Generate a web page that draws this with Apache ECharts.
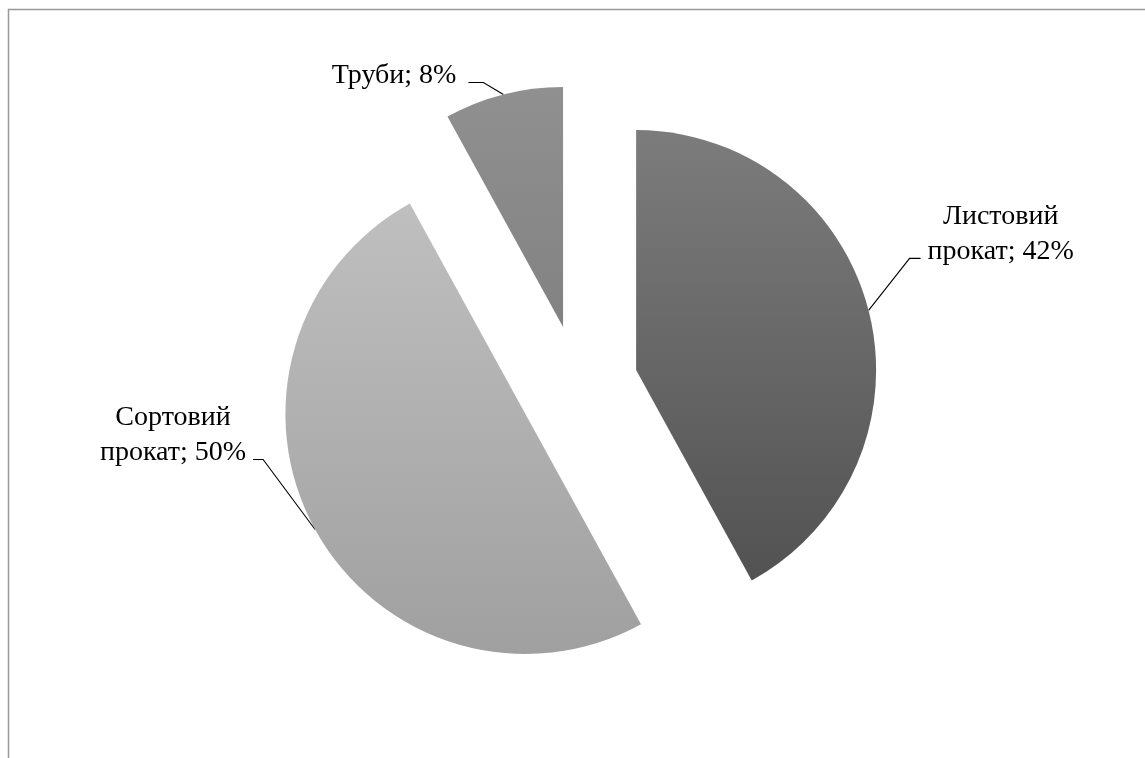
<!DOCTYPE html>
<html>
<head>
<meta charset="utf-8">
<script src="https://cdn.jsdelivr.net/npm/echarts@6/dist/echarts.min.js"></script>
<style>
  html, body { margin: 0; padding: 0; background: #ffffff; }
  #chart { width: 1145px; height: 758px; }
</style>
</head>
<body>
<div id="chart"></div>
<script>
// ---- data ----
const categories = ['Листовий\nпрокат', 'Сортовий\nпрокат', 'Труби'];
const values = [42, 50, 8];

// ---- style ----
const gradientStops = [
  ['#7c7c7c', '#525252'],
  ['#bfbfbf', '#a0a0a0'],
  ['#909090', '#828282']
];
const pieCenter = [578, 385];
const pieRadius = 240;
const explode = 60;
// leader line geometry relative to arc anchor: [kneeDx, kneeDy, horizontal length, text gap]
const leaderShape = [[41, -52, 11, 7], [-52, -70, 10, 7], [-20, -12, 15, 12]];
const baselineDrop = 11;

const total = values.reduce((a, b) => a + b, 0);
let cum = 0;
const series = values.map((v, i) => {
  const mid = (cum + v / 2) / total * 2 * Math.PI; // clockwise from top
  cum += v;
  const c = [pieCenter[0] + explode * Math.sin(mid), pieCenter[1] - explode * Math.cos(mid)];
  return {
    type: 'pie',
    silent: true,
    center: c,
    radius: pieRadius,
    startAngle: 90,
    clockwise: true,
    avoidLabelOverlap: false,
    animation: false,
    emphasis: { disabled: true },
    label: {
      show: true,
      position: 'outside',
      formatter: '{b}; {d}%',
      fontFamily: 'Liberation Serif',
      fontSize: 28,
      lineHeight: 35,
      color: '#000000'
    },
    labelLine: { show: true, lineStyle: { color: '#000000', width: 1.1 } },
    labelLayout: function (p) {
      const pts = p.labelLinePoints;
      if (!pts) return {};
      const a = pts[0];
      const L = leaderShape[p.dataIndex];
      const knee = [a[0] + L[0], a[1] + L[1]];
      const side = L[0] >= 0 ? 1 : -1;
      const end = [knee[0] + side * L[2], knee[1]];
      const w = p.labelRect.width;
      return {
        x: end[0] + side * (L[3] + w / 2),
        y: end[1] + baselineDrop,
        align: 'center',
        verticalAlign: 'bottom',
        labelLinePoints: [a, knee, end]
      };
    },
    data: categories.map((name, j) => {
      if (j !== i) {
        return {
          name: name, value: values[j],
          itemStyle: { color: 'rgba(0,0,0,0)' },
          label: { show: false }, labelLine: { show: false }
        };
      }
      return {
        name: name, value: values[j],
        itemStyle: {
          color: new echarts.graphic.LinearGradient(0, 0, 0, 1, [
            { offset: 0, color: gradientStops[j][0] },
            { offset: 1, color: gradientStops[j][1] }
          ])
        }
      };
    })
  };
});

const chart = echarts.init(document.getElementById('chart'), null, { renderer: 'canvas' });
chart.setOption({
  backgroundColor: '#ffffff',
  animation: false,
  graphic: [{
    type: 'polyline',
    silent: true,
    shape: { points: [[8.5, 800], [8.5, 9.5], [1200, 9.5]] },
    style: { stroke: '#999999', lineWidth: 1.5, fill: null }
  }],
  series: series
});
</script>
</body>
</html>
